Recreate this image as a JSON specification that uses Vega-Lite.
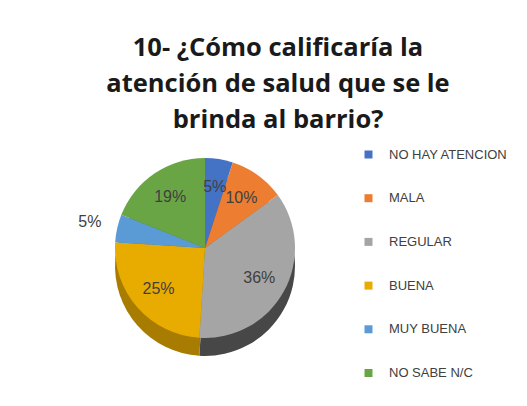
{
  "$schema": "https://vega.github.io/schema/vega-lite/v6.json",
  "width": 180,
  "height": 180,
  "autosize": {"type": "none"},
  "padding": {"left": 115, "top": 158, "right": 232, "bottom": 68},
  "background": "white",
  "config": {"view": {"stroke": null}},
  "title": {
    "text": ["10- ¿Cómo calificaría la", "atención de salud que se le", "brinda al barrio?"],
    "font": "Open Sans",
    "fontSize": 25.5,
    "fontWeight": "bold",
    "color": "#1a1a1a",
    "lineHeight": 36,
    "anchor": "middle",
    "dx": 73,
    "offset": -10
  },
  "data": {
    "values": [
      {"idx": 1, "cat": "NO HAY ATENCION", "pct": 0.05},
      {"idx": 2, "cat": "MALA", "pct": 0.10},
      {"idx": 3, "cat": "REGULAR", "pct": 0.36},
      {"idx": 4, "cat": "BUENA", "pct": 0.25},
      {"idx": 5, "cat": "MUY BUENA", "pct": 0.05},
      {"idx": 6, "cat": "NO SABE N/C", "pct": 0.19}
    ]
  },
  "layer": [
    {
      "mark": {"type": "arc", "outerRadius": 90},
      "encoding": {
        "theta": {"field": "pct", "type": "quantitative", "stack": true},
        "order": {"field": "idx"},
        "yOffset": {"value": 18},
        "color": {
          "field": "cat", "type": "nominal",
          "scale": {"domain": ["NO HAY ATENCION", "MALA", "REGULAR", "BUENA", "MUY BUENA", "NO SABE N/C"],
                    "range": ["#2f5597", "#ae5a21", "#474747", "#a87c00", "#3d6fa0", "#4e7e33"]},
          "legend": null
        }
      }
    },
    {
      "mark": {"type": "arc", "outerRadius": 90},
      "encoding": {
        "theta": {"field": "pct", "type": "quantitative", "stack": true},
        "order": {"field": "idx"},
        "color": {
          "field": "cat", "type": "nominal",
          "scale": {"domain": ["NO HAY ATENCION", "MALA", "REGULAR", "BUENA", "MUY BUENA", "NO SABE N/C"],
                    "range": ["#4472C4", "#ED7D31", "#A5A5A5", "#E8AC00", "#5B9BD5", "#6AA545"]},
          "legend": {
            "title": null,
            "orient": "none",
            "legendX": 247,
            "legendY": -10,
            "padding": 0,
            "symbolType": "square",
            "symbolSize": 64,
            "symbolStrokeWidth": 0,
            "labelFont": "Liberation Sans",
            "labelFontSize": 13,
            "labelColor": "#404040",
            "labelOffset": 14,
            "rowPadding": 29.7,
            "labelLimit": 200
          }
        }
      }
    },
    {
      "mark": {"type": "text", "radius": 62, "font": "Liberation Sans", "fontSize": 16, "color": "#404040"},
      "encoding": {
        "theta": {"field": "pct", "type": "quantitative", "stack": true},
        "order": {"field": "idx"},
        "text": {"condition": {"test": "datum.cat === 'MUY BUENA'", "value": ""}, "field": "pct", "type": "quantitative", "format": ".0%"}
      }
    },
    {
      "mark": {"type": "text", "radius": 118, "font": "Liberation Sans", "fontSize": 16, "color": "#404040"},
      "encoding": {
        "theta": {"field": "pct", "type": "quantitative", "stack": true},
        "order": {"field": "idx"},
        "text": {"condition": {"test": "datum.cat !== 'MUY BUENA'", "value": ""}, "field": "pct", "type": "quantitative", "format": ".0%"}
      }
    }
  ],
  "resolve": {"scale": {"color": "independent"}}
}
